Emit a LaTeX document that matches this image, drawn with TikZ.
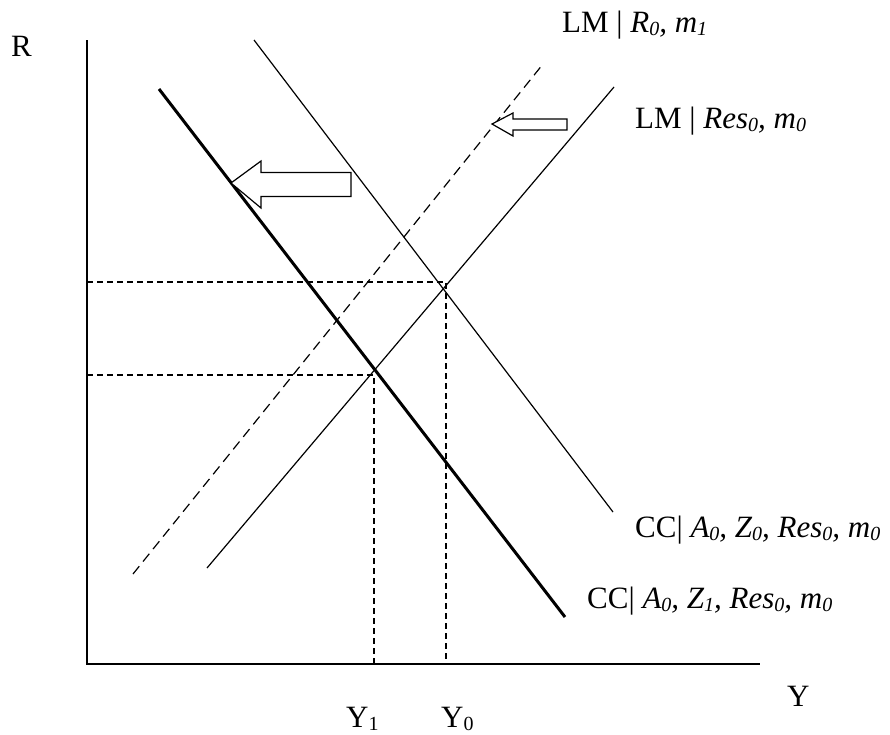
\documentclass[tikz,border=0pt]{standalone}
\usepackage{fontspec}
\setmainfont{Liberation Serif}
\newcommand\lsub[1]{\raisebox{-0.1em}{\fontsize{20}{20}\selectfont #1}}
\begin{document}
\begin{tikzpicture}[x=1pt,y=-1pt,
  thinln/.style={line width=1.2pt},
  thickln/.style={line width=3pt},
  dashln/.style={line width=1.2pt,dash pattern=on 10pt off 6pt},
  guide/.style={line width=1.1pt,dash pattern=on 6pt off 4pt},
  blockarrow/.style={line width=1.2pt,fill=white,line join=miter},
  lbl/.style={inner sep=0pt,anchor=base west,font=\fontsize{31}{34}\selectfont}]
\useasboundingbox (0,0) rectangle (890,734);
% axes
\coordinate (ytop) at (87,40);
\coordinate (org) at (87,664);
\coordinate (xend) at (760,664);
\draw[thinln] (ytop) -- (org) -- (xend);
% equilibrium points
\coordinate (E0) at (446,282);
\coordinate (E1) at (374,375);
\coordinate (E0y) at (87,282);
\coordinate (E1y) at (87,375);
\coordinate (E0x) at (446,664);
\coordinate (E1x) at (374,664);
% curves
\coordinate (cc0a) at (254,40);
\coordinate (cc0b) at (613,512);
\coordinate (cc1a) at (159,89);
\coordinate (cc1b) at (565,617);
\coordinate (lm0a) at (207,568);
\coordinate (lm0b) at (614,87);
\coordinate (lm1a) at (133,574);
\coordinate (lm1b) at (543,64);
\draw[thinln] (cc0a) -- (cc0b);
\draw[thickln] (cc1a) -- (cc1b);
\draw[thinln] (lm0a) -- (lm0b);
\draw[dashln] (lm1a) -- (lm1b);
% guides
\draw[guide] (E0y) -- (E0) -- (E0x);
\draw[guide] (E1y) -- (E1) -- (E1x);
% block arrows
\draw[blockarrow] (231,183) -- (261,161) -- (261,172.5) -- (351,172.5) -- (351,196.5) -- (261,196.5) -- (261,208) -- cycle;
\draw[blockarrow] (492,124) -- (513,113) -- (513,119) -- (567,119) -- (567,130) -- (513,130) -- (513,136) -- cycle;
% labels
\node[lbl] (lLM1) at (562,32) {LM | \itshape R\lsub{0}, m\lsub{1}};
\node[lbl] (lLM0) at (635,128) {LM | \itshape Res\lsub{0}, m\lsub{0}};
\node[lbl] (lCC0) at (635,537) {CC| \itshape A\lsub{0}, Z\lsub{0}, Res\lsub{0}, m\lsub{0}};
\node[lbl] (lCC1) at (587,608) {CC| \itshape A\lsub{0}, Z\lsub{1}, Res\lsub{0}, m\lsub{0}};
\node[lbl] (lY) at (787,706) {Y};
\node[lbl] (lY1) at (346,727) {Y\lsub{1}};
\node[lbl] (lY0) at (441,727) {Y\lsub{0}};
\node[lbl] (lR) at (11,56) {R};
\end{tikzpicture}
\end{document}
